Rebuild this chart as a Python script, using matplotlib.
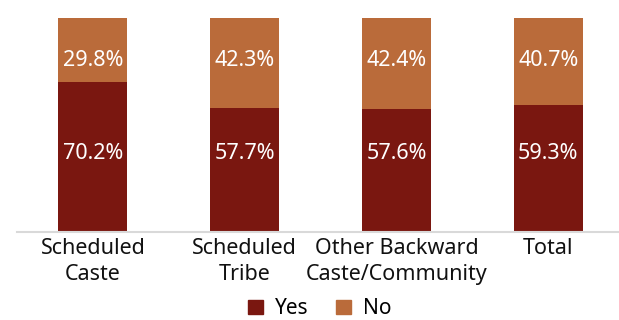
import numpy as np
import matplotlib
matplotlib.use("Agg")
import matplotlib.pyplot as plt
from matplotlib.patches import Patch

categories = ["Scheduled\nCaste", "Scheduled\nTribe", "Other Backward\nCaste/Community", "Total"]
yes_pct = [70.2, 57.7, 57.6, 59.3]
no_pct = [29.8, 42.3, 42.4, 40.7]

YES_C = "#7A1710"
NO_C = "#BA6B3A"

plt.rcParams["font.family"] = ["Noto Sans", "DejaVu Sans"]

fig = plt.figure(figsize=(6.19, 3.20), dpi=100)
ax = fig.add_axes([0.0275, 0.275, 0.981, 0.669])

x = np.arange(len(categories))
w = 0.455
ax.bar(x, yes_pct, w, color=YES_C, label="Yes")
ax.bar(x, no_pct, w, bottom=yes_pct, color=NO_C, label="No")

# labels sit on two fixed rows across all bars
for xi, y, n in zip(x, yes_pct, no_pct):
    ax.text(xi, 0.365, f"{y:.1f}%", ha="center", va="center", color="white",
            fontsize=15.5, transform=ax.get_xaxis_transform())
    ax.text(xi, 0.80, f"{n:.1f}%", ha="center", va="center", color="white",
            fontsize=15.5, transform=ax.get_xaxis_transform())

ax.set_xlim(-0.5, 3.5)
ax.set_ylim(0, 100)
ax.set_yticks([])
ax.set_xticks(x)
ax.set_xticklabels(categories, fontsize=15.5, linespacing=1.35, color="#111111")
ax.tick_params(axis="x", length=0, pad=4)
for s in ["top", "right", "left"]:
    ax.spines[s].set_visible(False)
ax.spines["bottom"].set_color("#D9D9D9")
ax.spines["bottom"].set_linewidth(1.5)

handles = [Patch(color=YES_C, label="Yes"), Patch(color=NO_C, label="No")]
fig.legend(handles=handles, loc="center", bbox_to_anchor=(0.517, 0.035), ncol=2,
           frameon=False, fontsize=15, handlelength=0.7, handleheight=0.7,
           handletextpad=0.6, columnspacing=1.3, borderpad=0)

fig.savefig("out.png", dpi=100)
